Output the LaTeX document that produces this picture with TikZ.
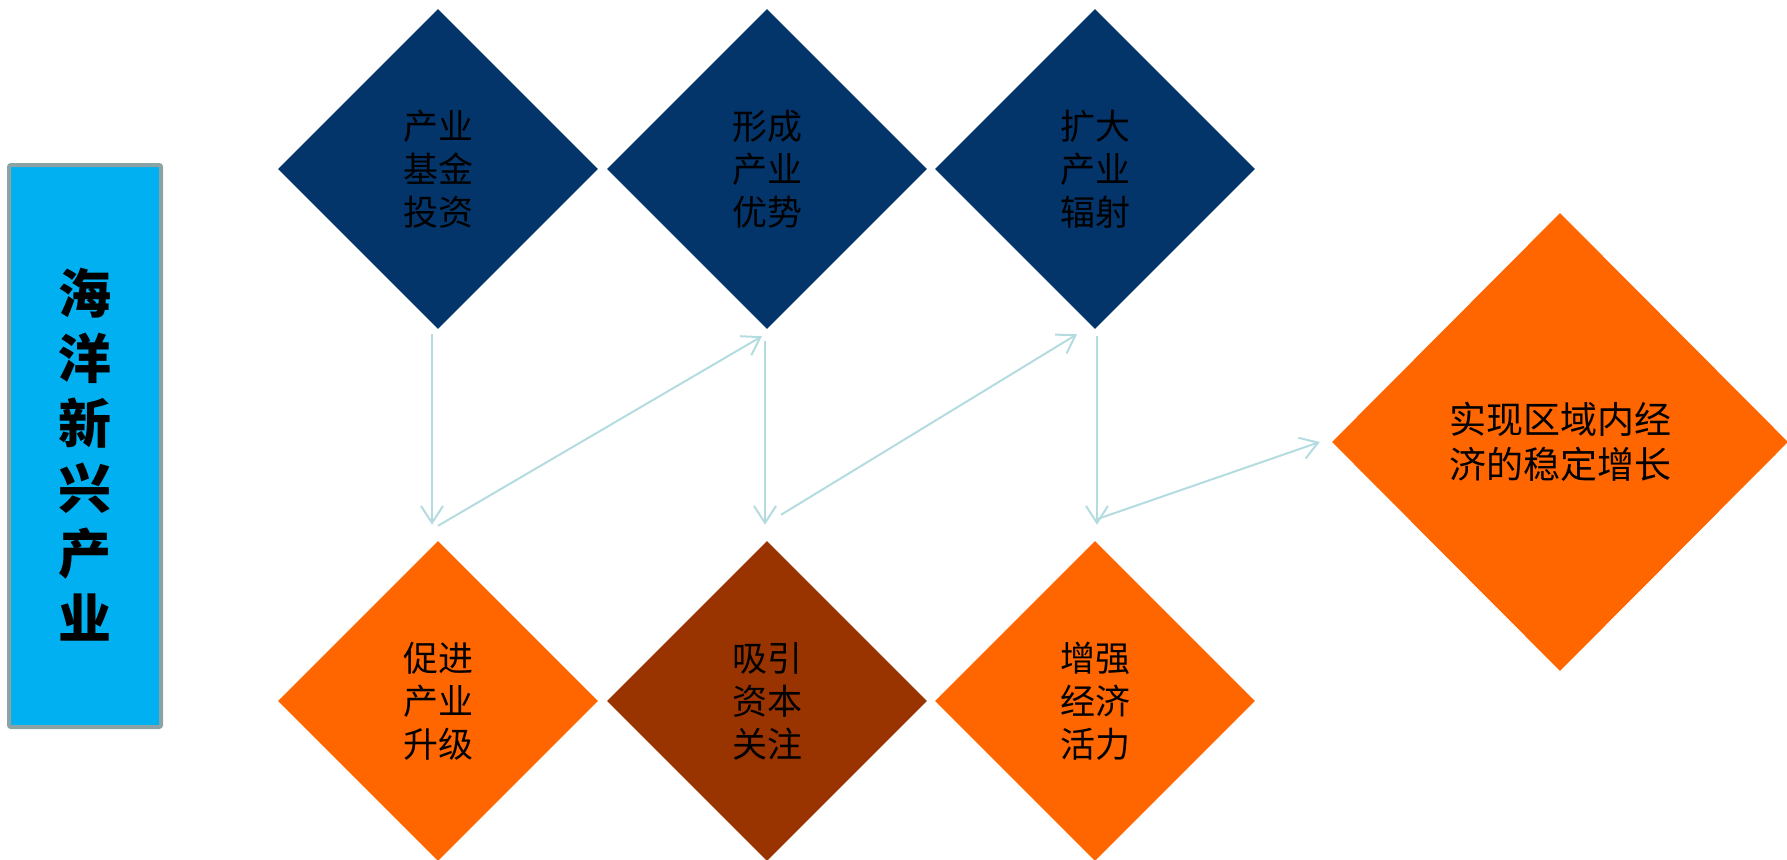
\documentclass[tikz,border=0pt]{standalone}
\usepackage{fontspec}
\newfontfamily\cjk{Noto Sans CJK SC}
\usetikzlibrary{shapes.geometric,arrows.meta}
\definecolor{navy}{HTML}{03356A}
\definecolor{orng}{HTML}{FF6600}
\definecolor{brwn}{HTML}{993300}
\definecolor{skyb}{HTML}{00B0F0}
\definecolor{boxgray}{HTML}{8CA3A5}
\definecolor{arrowc}{HTML}{B4DCE0}
\tikzset{
  dia/.style={diamond, aspect=1, inner sep=0pt, minimum width=320pt, minimum height=320pt,
    text=black, align=center, font=\cjk\fontsize{35pt}{43pt}\selectfont},
  bigdia/.style={diamond, aspect=1, inner sep=0pt, minimum width=456pt, minimum height=458pt,
    text=black, align=center, font=\cjk\fontsize{37pt}{45pt}\selectfont, fill=orng},
  conn/.style={draw=arrowc, line width=2pt, -{Straight Barb[length=17pt,width=22pt,line width=2pt]}},
  titlebox/.style={draw=boxgray, line width=4pt, fill=skyb, rounded corners=2pt,
    minimum width=152pt, minimum height=562pt, inner sep=0pt},
  titletext/.style={inner sep=0pt, align=center, text=black,
    font=\cjk\bfseries\fontsize{53pt}{65pt}\selectfont}
}
\begin{document}
\begin{tikzpicture}[x=1pt,y=-1pt]
\useasboundingbox (0,0) rectangle (1787,859);
\node[titlebox] (title) at (85,446) {};
\node[titletext] (titlet) at ([yshift=-9pt]title.center) {海\\洋\\新\\兴\\产\\业};
\node[dia, fill=navy] (d1) at (438,169) {产业\\基金\\投资};
\node[dia, fill=navy] (d2) at (767,169) {形成\\产业\\优势};
\node[dia, fill=navy] (d3) at (1095,169) {扩大\\产业\\辐射};
\node[dia, fill=orng] (b1) at (438,701) {促进\\产业\\升级};
\node[dia, fill=brwn] (b2) at (767,701) {吸引\\资本\\关注};
\node[dia, fill=orng] (b3) at (1095,701) {增强\\经济\\活力};
\node[bigdia] (big) at (1560,442) {实现区域内经\\济的稳定增长};
\draw[conn] ([xshift=-6pt,yshift=-5pt]d1.south) -- ([xshift=-6pt,yshift=16pt]b1.north);
\draw[conn] ([yshift=15pt]b1.north) -- ([xshift=-5pt,yshift=-7pt]d2.south);
\draw[conn] ([xshift=-2pt,yshift=-12pt]d2.south) -- ([xshift=-2pt,yshift=16pt]b2.north);
\draw[conn] ([xshift=14pt,yshift=26pt]b2.north) -- ([xshift=-18pt,yshift=-5pt]d3.south);
\draw[conn] ([xshift=2pt,yshift=-7pt]d3.south) -- ([xshift=2pt,yshift=16pt]b3.north);
\draw[conn] ([xshift=3pt,yshift=22pt]b3.north) -- ([xshift=-12pt]big.west);
\end{tikzpicture}
\end{document}
